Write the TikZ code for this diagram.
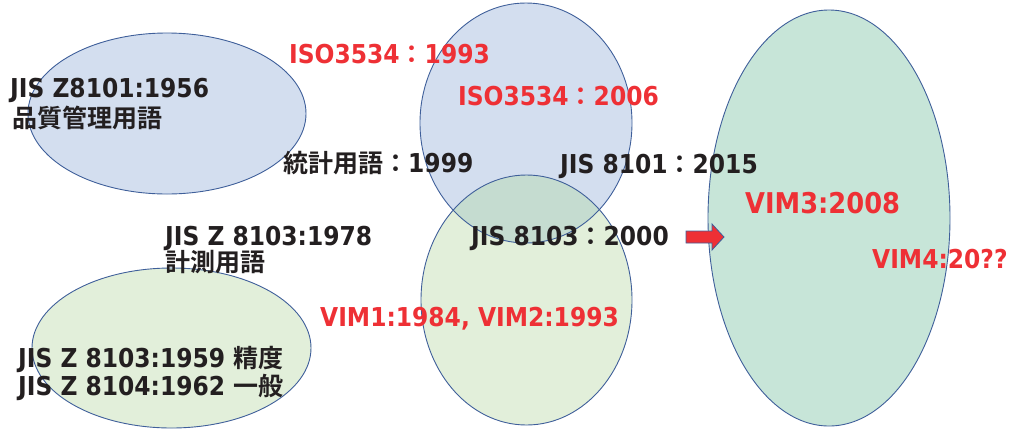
\documentclass[tikz,border=0pt]{standalone}
\usepackage{fontspec}
\setmainfont{DejaVu Sans Condensed}[BoldFont={DejaVu Sans Condensed Bold}]
\newfontfamily\jpfont{Noto Sans CJK JP}[BoldFont={Noto Sans CJK JP Bold}]
\newcommand\jp[1]{{\jpfont\bfseries\fontsize{25}{25}\selectfont #1}}
\definecolor{edge}{HTML}{3F5F9A}
\definecolor{bluefill}{HTML}{D3DEEF}
\definecolor{greenfill}{HTML}{E2EFDA}
\definecolor{tealfill}{HTML}{C7E5D8}
\definecolor{mixfill}{HTML}{C5DCD0}
\definecolor{txtred}{HTML}{EE3035}
\definecolor{txtdark}{HTML}{231F20}
\begin{document}
\begin{tikzpicture}[x=1pt,y=-1pt,
  rim/.style={draw=edge,line width=0.9pt},
  lbl/.style={anchor=base west,inner sep=0pt,font=\bfseries\fontsize{26}{26}\selectfont},
  dark/.style={lbl,text=txtdark},
  hot/.style={lbl,text=txtred}]
\useasboundingbox (0,0) rectangle (1011,429);

% ellipse centres
\coordinate (qc) at (167,113.5);
\coordinate (iso) at (526,123);
\coordinate (jz) at (526.5,300);
\coordinate (mc) at (171.5,348);
\coordinate (vim) at (829,218);

% fills
\fill[bluefill] (qc) ellipse [x radius=139pt,y radius=80.5pt];
\fill[greenfill] (mc) ellipse [x radius=139.5pt,y radius=80pt];
\fill[tealfill] (vim) ellipse [x radius=121pt,y radius=208pt];
\fill[bluefill] (iso) ellipse [x radius=106pt,y radius=120pt];
\fill[greenfill] (jz) ellipse [x radius=105.5pt,y radius=125pt];
\begin{scope}
  \clip (iso) ellipse [x radius=106pt,y radius=120pt];
  \fill[mixfill] (jz) ellipse [x radius=105.5pt,y radius=125pt];
\end{scope}

% outlines
\draw[rim] (qc) ellipse [x radius=139pt,y radius=80.5pt];
\draw[rim] (mc) ellipse [x radius=139.5pt,y radius=80pt];
\draw[rim] (vim) ellipse [x radius=121pt,y radius=208pt];
\draw[rim] (iso) ellipse [x radius=106pt,y radius=120pt];
\draw[rim] (jz) ellipse [x radius=105.5pt,y radius=125pt];

% labels
\node[dark] (z8101) at (10,97) {JIS Z8101:1956};
\node[dark] (hin) at (12,127) {\jp{品質管理用語}};
\node[hot] (iso93) at (289,63) {ISO3534\jp{：}1993};
\node[hot] (iso06) at (458,105) {ISO3534\jp{：}2006};
\node[dark] (tok) at (283,172) {\jp{統計用語：}1999};
\node[dark] (j15) at (560,173) {JIS 8101\jp{：}2015};
\node[hot,font=\bfseries\fontsize{28.6}{28.6}\selectfont] (v3) at (745,213) {VIM3:2008};
\node[hot] (v4) at (872,268) {VIM4:20??};
\node[dark] (j00) at (471,245) {JIS 8103\jp{：}2000};
\node[dark] (z78) at (165,245) {JIS Z 8103:1978};
\node[dark] (kei) at (165,271) {\jp{計測用語}};
\node[hot] (v12) at (320,326) {VIM1:1984, VIM2:1993};
\node[dark] (z59) at (18,367) {JIS Z 8103:1959 \jp{精度}};
\node[dark] (z62) at (18,395) {JIS Z 8104:1962 \jp{一般}};

% block arrow towards the VIM ellipse
\coordinate (a0) at (686,237);
\coordinate (a1) at (724,237);
\draw[edge,line width=0.8pt,fill=txtred]
  ([yshift=-6pt]a0) -- ([xshift=-12pt,yshift=-6pt]a1) -- ([xshift=-12pt,yshift=-13pt]a1)
  -- (a1) -- ([xshift=-12pt,yshift=13pt]a1) -- ([xshift=-12pt,yshift=6pt]a1)
  -- ([yshift=6pt]a0) -- cycle;
\end{tikzpicture}
\end{document}
